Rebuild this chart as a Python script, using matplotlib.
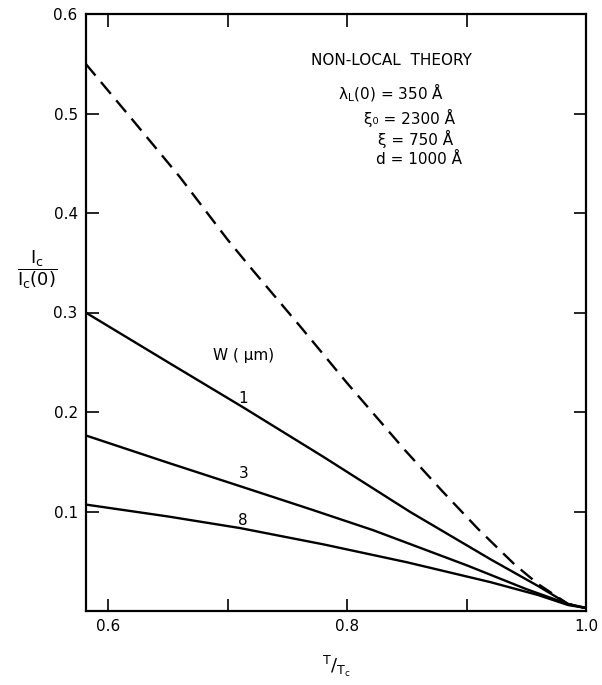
import matplotlib
matplotlib.use("Agg")
import matplotlib.pyplot as plt

plt.rcParams["mathtext.default"] = "regular"

# Data (T/Tc, Ic/Ic(0))
x_nonlocal = [0.581, 0.62, 0.66, 0.70, 0.7213, 0.76, 0.80, 0.8485, 0.88, 0.91, 0.94, 0.96, 0.975, 0.985, 1.0]
y_nonlocal = [0.550, 0.494, 0.436, 0.373, 0.342, 0.287, 0.229, 0.1615, 0.120, 0.082, 0.047, 0.027, 0.015, 0.007, 0.003]

x_w1 = [0.581, 0.6017, 0.65, 0.713, 0.78, 0.8527, 0.92, 0.96, 0.985, 1.0]
y_w1 = [0.300, 0.285, 0.250, 0.2046, 0.155, 0.0996, 0.052, 0.025, 0.007, 0.003]

x_w3 = [0.581, 0.65, 0.713, 0.77, 0.8218, 0.90, 0.95, 0.985, 1.0]
y_w3 = [0.1765, 0.149, 0.1244, 0.102, 0.0812, 0.046, 0.022, 0.007, 0.003]

x_w8 = [0.581, 0.65, 0.7105, 0.78, 0.85, 0.92, 0.96, 0.985, 1.0]
y_w8 = [0.107, 0.095, 0.0833, 0.067, 0.049, 0.029, 0.016, 0.006, 0.003]

curve_labels = ["1", "3", "8"]
label_x = [0.713, 0.713, 0.713]
label_y = [0.214, 0.138, 0.091]

x_ticks = [0.6, 0.7, 0.8, 0.9, 1.0]
x_ticklabels = ["0.6", "", "0.8", "", "1.0"]
y_ticks = [0.1, 0.2, 0.3, 0.4, 0.5, 0.6]
y_ticklabels = ["0.1", "0.2", "0.3", "0.4", "0.5", "0.6"]

fig = plt.figure(figsize=(6.02, 6.85), dpi=100)
ax = fig.add_axes([86/602, (685-611)/685, 500/602, 597/685])

ax.plot(x_nonlocal, y_nonlocal, color="black", lw=1.7, dashes=(6.5, 3.6))
ax.plot(x_w1, y_w1, color="black", lw=1.7)
ax.plot(x_w3, y_w3, color="black", lw=1.7)
ax.plot(x_w8, y_w8, color="black", lw=1.7)

for t, lx, ly in zip(curve_labels, label_x, label_y):
    ax.text(lx, ly, t, fontsize=11, ha="center", va="center")
ax.text(0.713, 0.257, "W ( μm)", fontsize=11, ha="center", va="center")

fs = 11
ax.text(0.837, 0.553, "NON-LOCAL  THEORY", fontsize=fs, ha="center", va="center")
ax.text(0.837, 0.521, r"$\lambda_L$(0) = 350 Å", fontsize=fs, ha="center", va="center")
ax.text(0.852, 0.495, "ξ₀ = 2300 Å", fontsize=fs, ha="center", va="center")
ax.text(0.857, 0.474, "ξ = 750 Å", fontsize=fs, ha="center", va="center")
ax.text(0.860, 0.454, "d = 1000 Å", fontsize=fs, ha="center", va="center")

ax.set_xlim(0.5813, 1.0)
ax.set_ylim(0.0, 0.6)
ax.set_xticks(x_ticks)
ax.set_xticklabels(x_ticklabels, fontsize=11)
ax.set_yticks(y_ticks)
ax.set_yticklabels(y_ticklabels, fontsize=11)
ax.tick_params(direction="in", length=9, width=1.2, top=True, right=True, pad=6)
for s in ax.spines.values():
    s.set_linewidth(1.6)

ax.set_xlabel(r"$^{T}/_{T_c}$", fontsize=13, labelpad=14)
fig.text(37/602, 1 - 270/685, r"$\dfrac{I_c}{I_c(0)}$", fontsize=13, ha="center", va="center")

fig.savefig("out.png", dpi=100)
